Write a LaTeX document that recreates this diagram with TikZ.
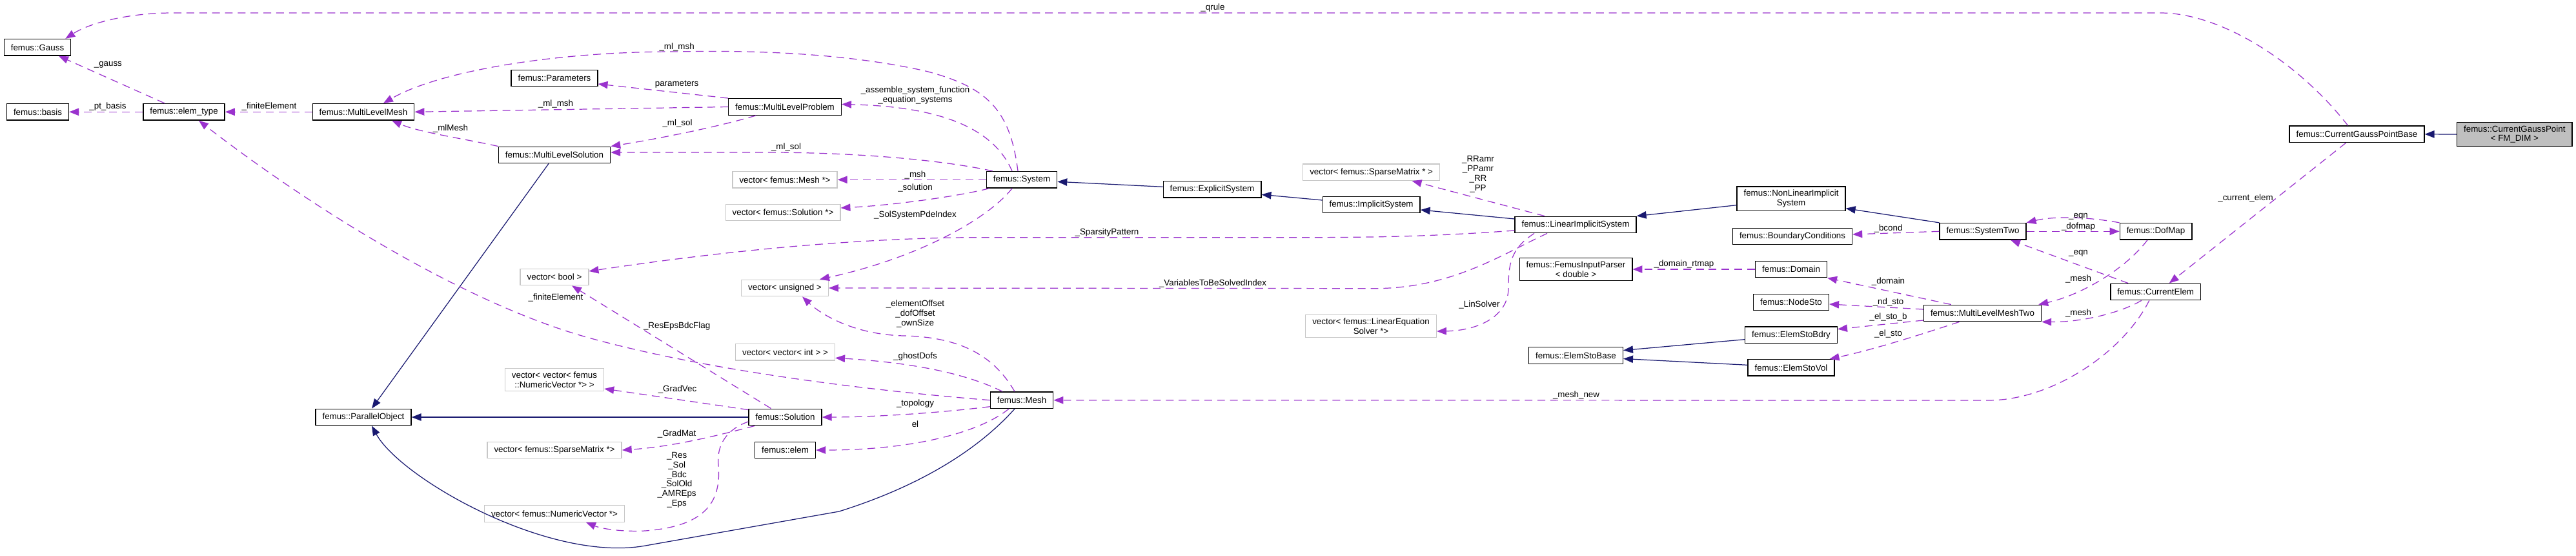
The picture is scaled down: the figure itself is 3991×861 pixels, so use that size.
\documentclass[tikz,border=0pt]{standalone}
\usepackage{fontspec}
\setmainfont{Liberation Sans}
\usepackage{tikz}
\usetikzlibrary{shapes, arrows.meta, calc}
\definecolor{usecol}{HTML}{9A32CD}
\definecolor{inhcol}{HTML}{191970}

\begin{document}
\begin{tikzpicture}[x=0.02cm, y=-0.02cm,
    cls/.style={draw=black, line width=0.8pt, fill=white, inner xsep=0.21cm, inner ysep=0.1cm, minimum height=0.51cm, align=center, font=\fontsize{7.6}{8.5}\selectfont},
    ext/.style={cls, draw=black!22},
    lbl/.style={inner sep=0pt, align=center, font=\fontsize{7.6}{8.5}\selectfont},
    uses/.style={draw=usecol, line width=0.7pt, dash pattern=on 6.8pt off 4.5pt, -{Triangle[length=8.5pt,width=6.5pt]}},
    inh/.style={draw=inhcol, line width=0.7pt, -{Triangle[length=8.5pt,width=6.5pt]}}]
        \useasboundingbox (0,0) rectangle (3991,861);

        \node[cls] (gauss) at (58,73.3) {femus::Gauss};
        \node[cls] (basis) at (58.5,173.3) {femus::basis};
        \node[cls] (elemtype) at (285,173.3) {femus::elem\_type};
        \node[cls] (mlmesh) at (563,173.3) {femus::MultiLevelMesh};
        \node[cls] (params) at (859,121) {femus::Parameters};
        \node[cls] (mlprob) at (1216,165.5) {femus::MultiLevelProblem};
        \node[cls] (mlsol) at (859,240) {femus::MultiLevelSolution};
        \node[ext] (vmesh) at (1216,278.3) {vector< femus::Mesh *>};
        \node[ext] (vsol) at (1213,329) {vector< femus::Solution *>};
        \node[ext] (vbool) at (859,429) {vector< bool >};
        \node[ext] (vuns) at (1216,446) {vector< unsigned >};
        \node[ext] (vvint) at (1216.5,545.3) {vector< vector< int > >};
        \node[ext] (vvnum) at (859,588) {vector< vector< femus\\::NumericVector *> >};
        \node[cls] (parobj) at (563,646) {femus::ParallelObject};
        \node[cls] (solution) at (1216.5,646) {femus::Solution};
        \node[ext] (vsparse) at (859,697) {vector< femus::SparseMatrix *>};
        \node[cls] (elem) at (1216.5,697) {femus::elem};
        \node[ext] (vnum) at (859,795.5) {vector< femus::NumericVector *>};
        \node[cls] (system) at (1583,278.3) {femus::System};
        \node[cls] (mesh) at (1583,619.7) {femus::Mesh};
        \node[cls] (explsys) at (1878,293.3) {femus::ExplicitSystem};
        \node[ext] (vsparseb) at (2124.6,266.7) {vector< femus::SparseMatrix * >};
        \node[cls] (implsys) at (2124.6,317) {femus::ImplicitSystem};
        \node[cls] (linsys) at (2441,348) {femus::LinearImplicitSystem};
        \node[ext] (vlinsolv) at (2124,505) {vector< femus::LinearEquation\\Solver *>};
        \node[cls] (fip) at (2441.5,417) {femus::FemusInputParser\\< double >};
        \node[cls] (estobase) at (2441.5,550.5) {femus::ElemStoBase};
        \node[cls] (nonlin) at (2775,307.7) {femus::NonLinearImplicit\\System};
        \node[cls] (bcond) at (2777,366) {femus::BoundaryConditions};
        \node[cls] (domain) at (2775,417) {femus::Domain};
        \node[cls] (nodesto) at (2775,468) {femus::NodeSto};
        \node[cls] (estobdry) at (2775,518.7) {femus::ElemStoBdry};
        \node[cls] (estovol) at (2775,569.3) {femus::ElemStoVol};
        \node[cls] (systwo) at (3072,358.3) {femus::SystemTwo};
        \node[cls] (mlmtwo) at (3071.5,485) {femus::MultiLevelMeshTwo};
        \node[cls] (dofmap) at (3340,358.3) {femus::DofMap};
        \node[cls] (curelem) at (3339.7,452) {femus::CurrentElem};
        \node[cls] (cgpbase) at (3651.5,207.8) {femus::CurrentGaussPointBase};
        \node[cls, fill=black!25] (cgp) at (3895.8,208) {femus::CurrentGaussPoint\\< FM\_DIM >};

        \draw[inh] (cgp.west) -- (cgpbase.east);
        \draw[inh] ($(nonlin.west)+(0,10)$) -- (linsys.north east);
        \draw[inh] ($(linsys.west)+(0,-9)$) -- ($(implsys.east)+(0,8)$);
        \draw[inh] ($(implsys.west)+(0,-7)$) -- ($(explsys.east)+(0,8)$);
        \draw[inh] ($(explsys.west)+(0,-4)$) -- ($(system.east)+(0,3)$);
        \draw[inh] (systwo.north west) -- ($(nonlin.east)+(0,15)$);
        \draw[inh] ($(estobdry.west)+(0,7)$) -- ($(estobase.east)+(0,-8)$);
        \draw[inh] ($(estovol.west)+(0,-4)$) -- ($(estobase.east)+(0,5)$);
        \draw[inh] ($(mlsol.south)+(-9,0)$) -- ($(parobj.north)+(13,0)$);
        \draw[inh] (solution.west) -- (parobj.east);
        \draw[inh] ($(mesh.south)+(-11,0)$) .. controls (1530,680) and (1450,745) .. (1300,792) -- (1000,845) .. controls (850,872) and (620,740) .. ($(parobj.south)+(13,0)$);

        \draw[uses] ($(cgpbase.north)+(-14,0)$) .. controls (3560,95) and (3440,20) .. (3347,20) -- (268,20) .. controls (200,20) and (140,35) .. ($(gauss.north east)+(-9,0)$);
        \draw[uses] ($(elemtype.north)+(-30,0)$) -- ($(gauss.south)+(33,0)$);
        \draw[uses] (elemtype.west) -- (basis.east);
        \draw[uses] (mlmesh.west) -- (elemtype.east);
        \draw[uses] ($(system.north)+(-6,0)$) .. controls (1565,170) and (1530,135) .. (1434,110) .. controls (1300,80) and (1150,78) .. (1046,80) .. controls (860,80) and (680,110) .. ($(mlmesh.north)+(31,0)$);
        \draw[uses] (mlprob.west) -- (mlmesh.east);
        \draw[uses] (mlsol.north west) .. controls (720,215) and (650,205) .. ($(mlmesh.south)+(44,0)$);
        \draw[uses] (mlprob.north west) -- ($(params.east)+(0,9)$);
        \draw[uses] ($(mlprob.south)+(-45,0)$) .. controls (1100,200) and (1000,218) .. (mlsol.north east);
        \draw[uses] ($(system.north west)+(10,0)$) .. controls (1470,250) and (1350,237) .. (1200,236) -- ($(mlsol.east)+(0,-4)$);
        \draw[uses] ($(system.north)+(-15,0)$) .. controls (1540,200) and (1460,165) .. ($(mlprob.east)+(0,-4)$);
        \draw[uses] (system.west) -- (vmesh.east);
        \draw[uses] ($(system.south west)+(5,0)$) .. controls (1480,305) and (1380,318) .. ($(vsol.east)+(0,-7)$);
        \draw[uses] ($(system.south)+(-15,0)$) .. controls (1530,340) and (1420,400) .. ($(vuns.north east)+(-14,0)$);
        \draw[uses] ($(linsys.west)+(0,9)$) .. controls (2200,367.7) and (2100,367.7) .. (2000,367.7) -- (1500,367.7) .. controls (1300,370) and (1100,392) .. ($(vbool.east)+(0,-9)$);
        \draw[uses] ($(linsys.south)+(-44,0)$) .. controls (2330,392) and (2250,446.7) .. (2130,446.7) -- (vuns.east);
        \draw[uses] ($(linsys.south)+(-64,0)$) .. controls (2340,385) and (2337,410) .. (2337,446) .. controls (2337,490) and (2290,512) .. ($(vlinsolv.east)+(0,8)$);
        \draw[uses] ($(linsys.north)+(-48,0)$) -- ($(vsparseb.south)+(63,0)$);
        \draw[uses] ($(mesh.north)+(-11,0)$) .. controls (1545,560) and (1500,522) .. (1400,520) .. controls (1320,518) and (1270,485) .. ($(vuns.south)+(27,0)$);
        \draw[uses] ($(mesh.north)+(-30,0)$) .. controls (1500,580) and (1420,562) .. ($(vvint.east)+(0,9)$);
        \draw[uses] (mesh.west) .. controls (1350,605) and (1100,575) .. (912,523) .. controls (720,470) and (480,320) .. ($(elemtype.south)+(23,0)$);
        \draw[uses] ($(mesh.west)+(0,10)$) .. controls (1450,640) and (1350,646) .. (solution.east);
        \draw[uses] ($(mesh.south)+(-20,0)$) .. controls (1520,668) and (1420,697) .. (elem.east);
        \draw[uses] ($(solution.north)+(-22,0)$) -- ($(vbool.south)+(27,0)$);
        \draw[uses] ($(solution.north west)+(0,2)$) -- ($(vvnum.east)+(0,14)$);
        \draw[uses] ($(solution.south west)+(10,0)$) .. controls (1110,675) and (1040,692) .. (vsparse.east);
        \draw[uses] ($(solution.west)+(0,7)$) .. controls (1125,665) and (1110,690) .. (1113,720) .. controls (1118,780) and (1090,815) .. (1000,822) .. controls (960,824) and (930,818) .. ($(vnum.south)+(49,0)$);
        \draw[uses] (domain.west) -- (fip.east);
        \draw[uses] (systwo.west) -- ($(bcond.east)+(0,-3)$);
        \draw[uses] (dofmap.north west) .. controls (3230,335) and (3180,335) .. (systwo.north east);
        \draw[uses] (systwo.east) -- (dofmap.west);
        \draw[uses] ($(curelem.north west)+(28,0)$) -- ($(systwo.south)+(43,0)$);
        \draw[uses] ($(dofmap.south)+(-13,0)$) .. controls (3290,420) and (3220,458) .. ($(mlmtwo.north east)+(-5,0)$);
        \draw[uses] ($(curelem.south)+(-22,0)$) .. controls (3280,487) and (3220,499) .. (mlmtwo.south east);
        \draw[uses] ($(mlmtwo.north west)+(43,0)$) -- (domain.south east);
        \draw[uses] ($(mlmtwo.west)+(0,-6)$) -- ($(nodesto.east)+(0,3)$);
        \draw[uses] ($(mlmtwo.west)+(0,11)$) -- ($(estobdry.east)+(0,-9)$);
        \draw[uses] ($(mlmtwo.south)+(-36,0)$) .. controls (2970,520) and (2900,542) .. ($(estovol.north east)+(-8,0)$);
        \draw[uses] ($(cgpbase.south)+(-17,0)$) -- ($(curelem.north)+(21,0)$);
        \draw[uses] ($(curelem.south)+(-10,0)$) .. controls (3290,545) and (3180,620) .. (3080,620) -- (mesh.east);

        \node[lbl] (lqrule) at (1879,11.7) {\_qrule};
        \node[lbl] (lgauss) at (167.4,100.7) {\_gauss};
        \node[lbl] (lptbasis) at (167,164.7) {\_pt\_basis};
        \node[lbl] (lfinite) at (417,164.7) {\_finiteElement};
        \node[lbl] (lmlmsha) at (1048.6,72.7) {\_ml\_msh};
        \node[lbl] (lparams) at (1048.6,130.7) {parameters};
        \node[lbl] (lmlmshb) at (861,160.7) {\_ml\_msh};
        \node[lbl] (lmlsola) at (1049.5,190.7) {\_ml\_sol};
        \node[lbl] (lmlmesh) at (698,199) {\_mlMesh};
        \node[lbl] (lmlsolb) at (1218,228) {\_ml\_sol};
        \node[lbl] (lassemble) at (1418,147.5) {\_assemble\_system\_function\\\_equation\_systems};
        \node[lbl] (lmsh) at (1418,270.7) {\_msh};
        \node[lbl] (lsolution) at (1418,290.7) {\_solution};
        \node[lbl] (lpde) at (1418,332.7) {\_SolSystemPdeIndex};
        \node[lbl] (lsparsity) at (1715,360) {\_SparsityPattern};
        \node[lbl] (lvars) at (1879,438.7) {\_VariablesToBeSolvedIndex};
        \node[lbl] (loffset) at (1418,486.4) {\_elementOffset\\\_dofOffset\\\_ownSize};
        \node[lbl] (lghost) at (1418,551.7) {\_ghostDofs};
        \node[lbl] (ltopo) at (1418,625) {\_topology};
        \node[lbl] (lel) at (1418,656.7) {el};
        \node[lbl] (lfiniteb) at (861,460.7) {\_finiteElement};
        \node[lbl] (lresflag) at (1048.6,505) {\_ResEpsBdcFlag};
        \node[lbl] (lgradvec) at (1049.5,602.7) {\_GradVec};
        \node[lbl] (lgradmat) at (1048.6,671.7) {\_GradMat};
        \node[lbl] (lres) at (1048.6,743.3) {\_Res\\\_Sol\\\_Bdc\\\_SolOld\\\_AMREps\\\_Eps};
        \node[lbl] (lrr) at (2290,269.7) {\_RRamr\\\_PPamr\\\_RR\\\_PP};
        \node[lbl] (llinsolv) at (2292,471.7) {\_LinSolver};
        \node[lbl] (lrtmap) at (2609,409.3) {\_domain\_rtmap};
        \node[lbl] (lmeshnew) at (2442,612) {\_mesh\_new};
        \node[lbl] (lbcond) at (2925.5,354.3) {\_bcond};
        \node[lbl] (leqna) at (3220,335) {\_eqn};
        \node[lbl] (ldofmap) at (3220,350.7) {\_dofmap};
        \node[lbl] (leqnb) at (3220,392.3) {\_eqn};
        \node[lbl] (lmesha) at (3220,432) {\_mesh};
        \node[lbl] (lmeshb) at (3220,485) {\_mesh};
        \node[lbl] (ldomain) at (2925.5,435.7) {\_domain};
        \node[lbl] (lndsto) at (2925.5,467.7) {\_nd\_sto};
        \node[lbl] (lelstob) at (2925.5,490.7) {\_el\_sto\_b};
        \node[lbl] (lelsto) at (2925.5,516.7) {\_el\_sto};
        \node[lbl] (lcurelem) at (3479,307.3) {\_current\_elem};

    \end{tikzpicture}
\end{document}
